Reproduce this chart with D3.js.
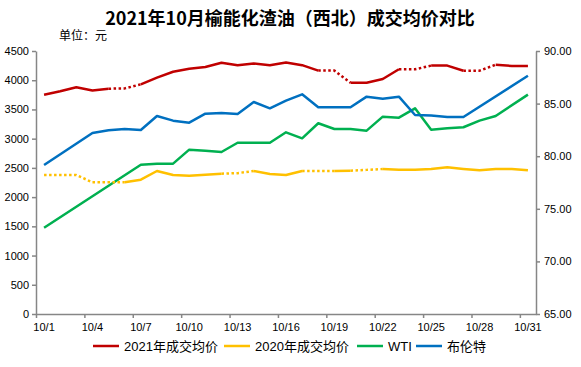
<!DOCTYPE html>
<html>
<head>
<meta charset="utf-8">
<script src="https://cdn.jsdelivr.net/npm/d3@7"></script>
<style>
  body { margin: 0; background: #fff; }
  svg { font-family: "Liberation Sans", Arial, "Noto Sans CJK SC", sans-serif; }
</style>
</head>
<body>
<div id="chart"></div>
<script>
// 日期
var days = ["10/1","10/2","10/3","10/4","10/5","10/6","10/7","10/8","10/9","10/10",
  "10/11","10/12","10/13","10/14","10/15","10/16","10/17","10/18","10/19","10/20",
  "10/21","10/22","10/23","10/24","10/25","10/26","10/27","10/28","10/29","10/30","10/31"];

// 左轴：元
var price2021 = [3750,3810,3880,3825,3855,3860,3930,4045,4145,4195,
  4225,4300,4255,4285,4255,4305,4258,4165,4165,3958,
  3958,4020,4187,4187,4250,4250,4163,4163,4266,4243,4243];
var price2020 = [2378,2378,2378,2253,2253,2253,2298,2447,2378,2367,
  2384,2401,2410,2447,2395,2378,2447,2447,2447,2452,
  2466,2481,2470,2470,2481,2510,2481,2458,2481,2481,2458];

// 右轴：美元/桶（null = 无数据，直接连线）
var wti = [73.20,null,null,null,null,null,79.19,79.29,79.29,80.62,
  80.52,80.40,81.28,81.28,81.28,82.27,81.70,83.13,82.59,82.59,
  82.43,83.76,83.66,84.55,82.52,82.65,82.75,83.38,83.82,null,85.85];
var brent = [79.16,null,null,82.21,82.46,82.59,82.49,83.82,83.38,83.19,
  84.04,84.11,84.01,85.15,84.55,85.28,85.88,84.65,84.65,84.65,
  85.66,85.47,85.66,83.92,83.86,83.73,83.73,null,null,null,87.65];

// 虚线区间（估计值）
var dotted2021 = [["10/5","10/7"],["10/18","10/20"],["10/23","10/25"],["10/27","10/29"]];
var dotted2020 = [["10/1","10/6"],["10/12","10/14"],["10/17","10/19"],["10/20","10/22"]];

var leftTicks = [0,500,1000,1500,2000,2500,3000,3500,4000,4500];
var rightTicks = [65,70,75,80,85,90];
var labelDays = ["10/1","10/4","10/7","10/10","10/13","10/16","10/19","10/22","10/25","10/28","10/31"];

var width = 581, height = 367;
var plot = { left: 36, right: 536, top: 51, bottom: 314 };
var axisColor = "#868686";

var svg = d3.select("#chart").append("svg")
  .attr("width", width).attr("height", height);

// 标题
svg.append("text")
  .attr("x", 290).attr("y", 25)
  .attr("text-anchor", "middle")
  .style("font-size", "18px").style("font-weight", "bold")
  .style("font-family", "'Noto Sans CJK SC', sans-serif")
  .attr("fill", "#000")
  .text("2021年10月榆能化渣油（西北）成交均价对比");

svg.append("text")
  .attr("x", 59).attr("y", 40)
  .style("font-size", "12px")
  .attr("fill", "#000")
  .text("单位：元");

var x = d3.scaleBand().domain(days).range([plot.left, plot.right]).paddingInner(0).paddingOuter(0);
var xEdge = d3.scaleLinear().domain([0, days.length]).range([plot.left, plot.right]);
var yL = d3.scaleLinear().domain([0, 4500]).range([plot.bottom, plot.top]);
var yR = d3.scaleLinear().domain([65, 90]).range([plot.bottom, plot.top]);

function styleAxis(g) {
  g.select(".domain").attr("stroke", axisColor).attr("stroke-width", 1.5);
  g.selectAll(".tick line").attr("stroke", axisColor).attr("stroke-width", 1.5);
  g.selectAll(".tick text").attr("fill", "#000").style("font-size", "11px");
}

// 左轴
svg.append("g")
  .attr("transform", "translate(" + plot.left + ",0)")
  .call(d3.axisLeft(yL).tickValues(leftTicks).tickSize(4).tickSizeOuter(0).tickPadding(3)
    .tickFormat(d3.format("d")))
  .call(styleAxis);

// 右轴
svg.append("g")
  .attr("transform", "translate(" + plot.right + ",0)")
  .call(d3.axisRight(yR).tickValues(rightTicks).tickSize(4).tickSizeOuter(0).tickPadding(4)
    .tickFormat(d3.format(".2f")))
  .call(styleAxis);

// X轴刻度（类别边界）
svg.append("g")
  .attr("transform", "translate(0," + plot.bottom + ")")
  .call(d3.axisBottom(xEdge).tickValues(d3.range(0, days.length, 3)).tickSize(4).tickSizeOuter(0).tickFormat(""))
  .call(styleAxis);

// X轴标签（类别中心）
svg.append("g")
  .attr("transform", "translate(0," + plot.bottom + ")")
  .call(d3.axisBottom(x).tickValues(labelDays).tickSize(0).tickPadding(9))
  .call(function(g) {
    g.select(".domain").remove();
    g.selectAll(".tick text").attr("fill", "#000").style("font-size", "11px");
  });

function cx(d) { return x(d) + x.bandwidth() / 2; }

function inRange(ranges, a, b) {
  var ia = days.indexOf(a), ib = days.indexOf(b);
  return ranges.some(function(r) {
    return days.indexOf(r[0]) <= ia && ib <= days.indexOf(r[1]);
  });
}

// 画一条线：按段分实线/虚线
function drawSeries(values, scale, color, ranges) {
  var pts = days.map(function(d, i) { return { day: d, v: values[i] }; })
    .filter(function(p) { return p.v != null; });
  var line = d3.line()
    .x(function(p) { return cx(p.day); })
    .y(function(p) { return scale(p.v); });

  var groups = [];
  for (var i = 0; i < pts.length - 1; i++) {
    var dot = ranges ? inRange(ranges, pts[i].day, pts[i + 1].day) : false;
    var last = groups[groups.length - 1];
    if (last && last.dot === dot) {
      last.pts.push(pts[i + 1]);
    } else {
      groups.push({ dot: dot, pts: [pts[i], pts[i + 1]] });
    }
  }

  svg.append("g").selectAll("path")
    .data(groups)
    .enter()
      .append("path")
      .attr("d", function(g) { return line(g.pts); })
      .attr("fill", "none")
      .attr("stroke", color)
      .attr("stroke-width", 2.5)
      .attr("stroke-linejoin", "round")
      .attr("stroke-dasharray", function(g) { return g.dot ? "2.5,2.5" : null; });
}

var series = [
  { name: "2021年成交均价", color: "#C00000" },
  { name: "2020年成交均价", color: "#FFC000" },
  { name: "WTI", color: "#00B050" },
  { name: "布伦特", color: "#0070C0" }
];

// 先画右轴系列，再画左轴
drawSeries(wti, yR, "#00B050", null);
drawSeries(brent, yR, "#0070C0", null);
drawSeries(price2020, yL, "#FFC000", dotted2020);
drawSeries(price2021, yL, "#C00000", dotted2021);

// 图例
var legendX = [93, 224, 357, 416];
var legend = svg.append("g").selectAll("g")
  .data(series)
  .enter()
    .append("g")
    .attr("transform", function(d, i) { return "translate(" + legendX[i] + ",346)"; });
legend.append("line")
  .attr("x1", 0).attr("x2", 26)
  .attr("stroke", function(d) { return d.color; })
  .attr("stroke-width", 2.5);
legend.append("text")
  .attr("x", 31).attr("dy", "0.35em")
  .style("font-size", "13px")
  .attr("fill", "#000")
  .text(function(d) { return d.name; });
</script>
</body>
</html>
